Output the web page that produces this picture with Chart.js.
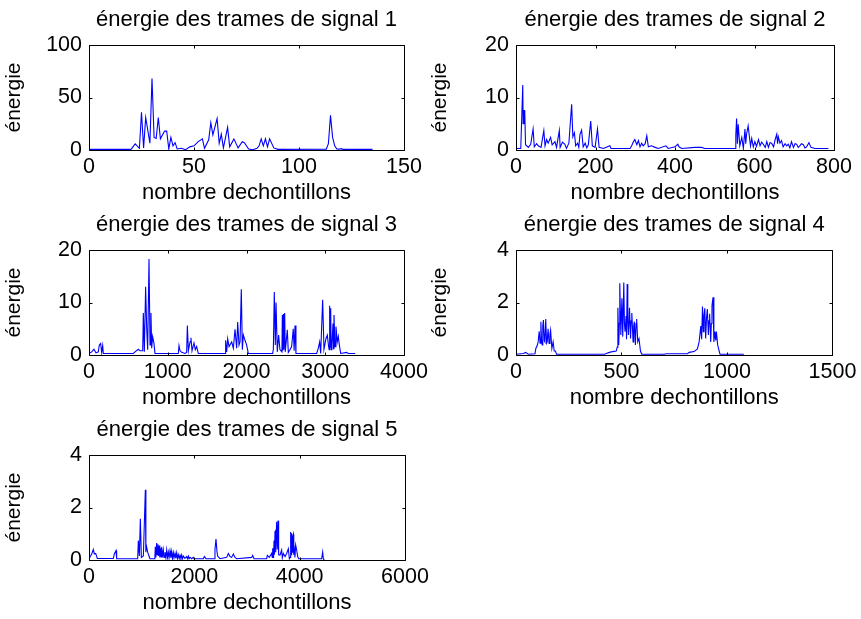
<!DOCTYPE html>
<html><head><meta charset="utf-8">
<script src="https://cdn.jsdelivr.net/npm/chart.js@4/dist/chart.umd.min.js"></script>
<style>
html,body{margin:0;padding:0;background:#fff;}
#fig{position:relative;width:861px;height:619px;overflow:hidden;background:#fff;}
#fig canvas{position:absolute;left:0;top:0;}
</style></head><body>
<div id="fig">
<canvas id="c1" width="861" height="619"></canvas>
<canvas id="c2" width="861" height="619"></canvas>
<canvas id="c3" width="861" height="619"></canvas>
<canvas id="c4" width="861" height="619"></canvas>
<canvas id="c5" width="861" height="619"></canvas>
</div>
<script>
// ---- text ----
const titles = ['énergie des trames de signal 1','énergie des trames de signal 2','énergie des trames de signal 3','énergie des trames de signal 4','énergie des trames de signal 5'];
const xLabel = 'nombre dechontillons';
const yLabel = 'énergie';

// ---- tick values ----
const xTicks1 = [0, 50, 100, 150];      const yTicks1 = [0, 50, 100];
const xTicks2 = [0, 200, 400, 600, 800]; const yTicks2 = [0, 10, 20];
const xTicks3 = [0, 1000, 2000, 3000, 4000]; const yTicks3 = [0, 10, 20];
const xTicks4 = [0, 500, 1000, 1500];   const yTicks4 = [0, 2, 4];
const xTicks5 = [0, 2000, 4000, 6000];  const yTicks5 = [0, 2, 4];

// ---- series ----
const s1x = [0,20,22,24,25,26,27,29,30,31,32,33,34,36,37,38,39,40,41,42,44,46,48,50,52,54,55,57,58,59,61,62,63,64,66,67,69,71,73,74,76,78,80,81,82,83,84,85,86,88,90,113,114,115,116,117,118,119,120,121,135];
const s1y = [0.6,0.6,5.8,1.6,36,2,31,6.5,68,12,11,31,10.6,18,18,1,12,4,7,1,1.6,0.3,3,4,8,10.6,1.6,9.7,26,14.5,30,6.5,15,2,21.6,3,10.6,2,8,7,1,0.3,1.6,4,10.6,4,10.6,3,10.6,2,0.6,0.8,6,33,12,4,1,0.8,1.3,0.6,0.6];

const s2x = [0,12,17,18,20,22,24,31,37,43,46,52,56,63,70,73,77,81,87,91,98,102,109,111,117,123,127,133,140,143,147,150,155,158,161,165,169,174,178,182,188,192,199,205,209,220,236,239,287,291,295,299,304,308,312,316,320,325,329,333,341,350,358,377,383,400,407,410,417,450,467,475,551,553,555,557,559,563,568,572,576,578,580,584,588,590,593,597,601,605,610,614,618,622,627,631,635,639,643,648,652,656,658,660,664,668,672,677,681,685,689,693,698,702,706,710,714,718,723,727,731,737,742,752,786];
const s2y = [0.3,0.3,12.4,5,7.5,7.5,1,0.5,1.1,4,0.6,1.2,0.8,0.5,3.7,0.8,2,1.3,2.4,1,1.6,0.5,3.7,0.5,1.5,1.1,0.3,1.3,8.7,2.5,3.3,0.8,1.3,0.5,3,3.8,0.6,1.3,0.4,1,5.5,0.8,0.5,4,0.5,0.3,0.8,0.3,0.3,0.8,1.5,2,1,1.8,0.6,1.3,0.8,1.2,2.7,0.6,0.8,0.5,0.3,0.8,0.3,0.6,1.1,0.6,0.3,0.5,0.5,0.3,0.3,3,6,1.2,4.9,0.8,2.4,0.3,4,1.2,3,4.6,2,0.8,2.2,0.6,1.6,0.7,2,0.8,1.5,1.1,0.5,1.6,0.5,1.4,1.3,0.6,2,3,1.2,2.5,1.3,1.8,0.6,1.2,0.8,1.1,0.4,1.6,0.5,1.2,1.1,0.5,0.8,1.2,1,0.4,0.6,1.4,0.5,0.3,0.3];

const s3x = [0,34,63,89,118,131,148,161,174,182,563,584,626,648,682,690,703,719,732,745,762,775,787,796,808,825,838,1134,1143,1156,1177,1219,1240,1249,1262,1283,1295,1308,1333,1350,1367,1388,1727,1735,1748,1761,1778,1812,1833,1854,1875,1888,1905,1918,1934,1947,1960,1981,2002,2023,2332,2341,2353,2366,2375,2391,2408,2425,2450,2455,2460,2468,2475,2485,2492,2501,2518,2531,2552,2573,2594,2605,2616,2628,2891,2912,2929,2942,2967,2984,3009,3026,3043,3050,3056,3062,3069,3075,3085,3098,3105,3111,3124,3136,3153,3166,3179,3196,3272,3293,3380];
const s3y = [0.3,0.6,1.1,0.4,0.6,1.9,2.2,0.5,1.8,0.3,0.3,0.6,1.1,0.8,0.8,8,0.6,13,5.4,1,18.3,1.9,8,1.3,3.5,2.2,0.3,0.3,1.8,0.8,0.5,0.3,0.5,5.6,0.8,2.5,3.3,0.8,2.3,1,1.6,0.3,0.3,2.8,0.6,3.1,1.6,2.5,1.3,4.9,1.3,6.3,1.9,2.5,12.5,1,3.8,2.8,1.9,0.3,0.3,1.1,12,1.9,10,0.6,3.8,1,0.6,7.6,0.8,7.8,1,8,0.6,0.6,4.8,0.5,1,1.6,5,0.8,5.6,0.3,0.3,1.3,2.5,0.3,10.5,1.1,3.1,3.8,1.6,1,9.4,1.5,8.9,1,1.9,6,1.2,7.6,1.6,5.4,2.5,3.5,1.9,0.3,0.5,0.3,0.3];

const s4x = [0,35,46,58,90,94,100,105,110,114,118,121,124,127,130,134,137,141,145,148,152,157,161,164,170,176,181,187,192,420,428,443,459,475,480,483,487,490,492,497,502,506,511,514,517,522,524,527,530,533,538,543,546,549,555,558,561,566,569,572,577,583,590,596,703,711,813,821,844,860,868,876,880,884,888,891,895,899,903,907,912,915,918,923,926,929,934,938,943,947,950,956,962,967,1080];
const s4y = [0.03,0.06,0.1,0.03,0.05,0.25,0.35,0.5,0.9,0.45,1.27,0.6,0.38,1.1,1.33,0.55,0.5,1.37,0.45,0.5,1,0.44,0.8,0.95,0.25,0.5,0.15,0.15,0.03,0.03,0.06,0.1,0.13,0.15,0.3,1.8,0.38,1.2,2.73,0.76,2.16,0.7,2.76,1.2,0.89,1.48,0.6,2.7,1.3,0.76,1.8,0.63,1.3,1.6,0.5,1.1,1.27,0.38,1.2,1.37,0.5,0.63,0.15,0.03,0.03,0.05,0.05,0.1,0.13,0.23,0.5,1.1,0.6,1.85,0.89,1.5,1.78,0.63,1.4,1.75,0.76,1.3,1.57,0.5,1.2,1.88,2.2,0.5,0.89,0.55,0.89,0.38,0.19,0.03,0.03];

const s5x = [0,51,82,101,127,158,462,481,513,525,924,937,956,975,994,1032,1070,1080,1089,1114,1139,1158,1250,1259,1270,1285,1295,1310,1320,1335,1345,1361,1370,1380,1395,1411,1425,1443,1460,1475,1490,1506,1520,1538,1555,1570,1585,1601,1615,1633,1650,1665,1680,1696,1712,1728,1745,1759,1775,1791,1820,1854,1870,1886,1900,1918,1950,1981,1994,2171,2190,2222,2380,2392,2411,2430,2443,2487,2614,2646,2677,2709,2741,2772,2804,3089,3108,3133,3373,3386,3424,3468,3480,3487,3495,3505,3513,3520,3532,3540,3550,3563,3575,3589,3597,3605,3627,3658,3670,3690,3722,3753,3785,3804,3820,3829,3836,3848,3855,3870,3880,3888,3899,3910,3924,3943,3962,3981,4418,4437,4449,4460];
const s5y = [0.05,0.23,0.4,0.23,0.25,0.06,0.06,0.23,0.36,0.05,0.05,0.74,0.15,1.57,0.1,0.15,2.68,0.3,0.55,0.3,0.15,0.05,0.05,0.5,0.1,0.65,0.2,0.6,0.15,0.55,0.1,0.45,0.12,0.5,0.1,0.38,0.1,0.3,0.08,0.38,0.1,0.3,0.08,0.35,0.08,0.32,0.06,0.28,0.08,0.25,0.06,0.27,0.06,0.2,0.05,0.18,0.06,0.19,0.05,0.15,0.06,0.13,0.05,0.15,0.05,0.1,0.05,0.1,0.05,0.05,0.13,0.05,0.05,0.4,0.8,0.32,0.15,0.05,0.1,0.25,0.13,0.1,0.23,0.1,0.05,0.1,0.18,0.05,0.05,0.18,0.1,0.25,0.1,0.45,0.1,0.2,0.74,0.2,1.1,1.15,0.3,1.46,0.4,1.5,1.45,0.2,0.19,0.38,0.08,0.25,0.13,0.25,0.43,0.05,0.1,1.07,0.2,1.02,0.3,0.9,0.98,0.2,0.38,0.1,0.57,0.38,0.13,0.05,0.05,0.3,0.05,0];

// ---- layout (plot areas) ----
const W = 861, H = 619;
const FONT = "'Liberation Sans', Arial, Helvetica, sans-serif";
const boxes = [
  {L: 89,  T: 45,  R: 404, B: 150},
  {L: 516, T: 45,  R: 834, B: 150},
  {L: 89,  T: 250, R: 404, B: 355},
  {L: 516, T: 250, R: 834, B: 355},
  {L: 89,  T: 455, R: 405, B: 560}
];

const axesBox = {
  id: 'axesBox',
  afterDraw(chart) {
    const {ctx, chartArea: a, scales: {x, y}} = chart;
    ctx.save();
    ctx.strokeStyle = '#000';
    ctx.lineWidth = 1;
    const l = Math.round(a.left) + 0.5, r = Math.round(a.right) + 0.5;
    const t = Math.round(a.top) + 0.5, b = Math.round(a.bottom) + 0.5;
    ctx.beginPath();
    ctx.rect(l, t, r - l, b - t);
    const tl = 3;
    x.ticks.forEach(tk => {
      const px = Math.round(x.getPixelForValue(tk.value)) + 0.5;
      ctx.moveTo(px, b); ctx.lineTo(px, b - tl);
      ctx.moveTo(px, t); ctx.lineTo(px, t + tl);
    });
    y.ticks.forEach(tk => {
      const py = Math.round(y.getPixelForValue(tk.value)) + 0.5;
      ctx.moveTo(l, py); ctx.lineTo(l + tl, py);
      ctx.moveTo(r, py); ctx.lineTo(r - tl, py);
    });
    ctx.stroke();
    ctx.restore();
  }
};

function makeChart(id, idx, xs, ys, xt, yt) {
  const bx = boxes[idx];
  const padL = bx.L >= 200 ? bx.L - 90.2 : 0;
  const yW = bx.L - padL;
  const xH = 56.6;
  const pts = xs.map((v, i) => ({x: v, y: ys[i]}));
  return new Chart(document.getElementById(id), {
    type: 'line',
    data: {datasets: [{data: pts, borderColor: '#0000ff', borderWidth: 1.1, pointRadius: 0, tension: 0, fill: false}]},
    options: {
      responsive: false, animation: false, devicePixelRatio: 1,
      events: [],
      layout: {padding: {left: padL, top: bx.T - 38.3, right: W - bx.R, bottom: H - bx.B - xH}},
      plugins: {
        legend: {display: false}, tooltip: {enabled: false},
        title: {display: true, text: titles[idx], fullSize: false, color: '#000',
          font: {family: FONT, size: 22, weight: 'normal', lineHeight: 1.2},
          padding: {top: 0, bottom: 11.9}}
      },
      scales: {
        x: {
          type: 'linear', min: xt[0], max: xt[xt.length - 1],
          afterBuildTicks: s => { s.ticks = xt.map(v => ({value: v})); },
          afterFit: s => { s.height = xH; },
          grid: {display: false, drawTicks: false}, border: {display: false},
          ticks: {padding: 4.65, autoSkip: false, maxRotation: 0, minRotation: 0, color: '#000',
            font: {family: FONT, size: 21.5}, callback: v => String(v)},
          title: {display: true, text: xLabel, color: '#000', font: {family: FONT, size: 22}, padding: {top: 0, bottom: 0}}
        },
        y: {
          type: 'linear', min: yt[0], max: yt[yt.length - 1],
          afterBuildTicks: s => { s.ticks = yt.map(v => ({value: v})); },
          afterFit: s => { s.width = yW; },
          grid: {display: false, drawTicks: false}, border: {display: false},
          ticks: {padding: 7, autoSkip: false, color: '#000',
            font: {family: FONT, size: 21.5}, callback: v => String(v)},
          title: {display: true, text: yLabel, color: '#000', font: {family: FONT, size: 21}, padding: {top: 1.5, bottom: 0}}
        }
      }
    },
    plugins: [axesBox]
  });
}

makeChart('c1', 0, s1x, s1y, xTicks1, yTicks1);
makeChart('c2', 1, s2x, s2y, xTicks2, yTicks2);
makeChart('c3', 2, s3x, s3y, xTicks3, yTicks3);
makeChart('c4', 3, s4x, s4y, xTicks4, yTicks4);
makeChart('c5', 4, s5x, s5y, xTicks5, yTicks5);
</script>
</body></html>
